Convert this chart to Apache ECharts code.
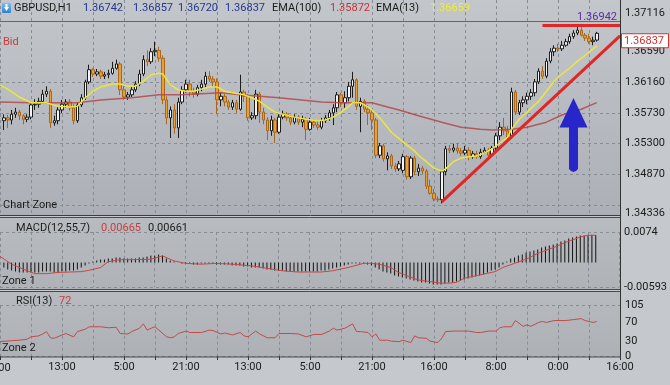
<!DOCTYPE html>
<html><head><meta charset="utf-8">
<script src="https://cdn.jsdelivr.net/npm/echarts@6/dist/echarts.min.js"></script>
<style>html,body{margin:0;padding:0;background:#c4c7cc;}#c{width:670px;height:385px;}</style>
</head><body><div id="c"></div>
<script>
// ---------- DATA ----------
const symbolName = 'GBPUSD,H1';
const timeLabels = ['21:00','13:00','5:00','21:00','13:00','5:00','21:00','16:00','8:00','0:00','16:00'];
const quote = {open: 1.36742, high: 1.36857, low: 1.36720, close: 1.36837};
const emaSlowLast = 1.35872, emaFastLast = 1.36659;
const macdLast = 0.00665, signalLast = 0.00661, rsiLast = 72;
const highLevel = 1.36942;
const priceMin = 1.34336, priceMax = 1.37300;
const priceTicks = [1.34336, 1.34870, 1.35300, 1.35730, 1.36160, 1.36590, 1.37116];
const priceGridLines = [1.34440, 1.34870, 1.35300, 1.35730, 1.36160];
const macdTicks = [-0.00593, 0.0074];
const rsiTicks = [0, 30, 70, 105];
// candles: [open, close, low, high], one per hour bar starting at bar 1
const ohlc = [
[1.3562,1.3566,1.3549,1.3571],[1.3566,1.3563,1.3552,1.3570],[1.3563,1.3571,1.3557,1.3577],[1.3571,1.3574,1.3566,1.3580],
[1.3574,1.3569,1.3563,1.3577],[1.3569,1.3564,1.3557,1.3571],[1.3564,1.3567,1.3560,1.3571],[1.3567,1.3584,1.3564,1.3587],
[1.3584,1.3585,1.3577,1.3592],[1.3585,1.3589,1.3580,1.3594],[1.3589,1.3599,1.3587,1.3605],[1.3599,1.3603,1.3595,1.3610],
[1.3603,1.3559,1.3552,1.3606],[1.3559,1.3562,1.3555,1.3569],[1.3562,1.3577,1.3557,1.3581],[1.3577,1.3585,1.3573,1.3591],
[1.3585,1.3588,1.3580,1.3592],[1.3588,1.3580,1.3576,1.3592],[1.3580,1.3562,1.3557,1.3585],[1.3562,1.3584,1.3559,1.3587],
[1.3584,1.3594,1.3581,1.3599],[1.3594,1.3616,1.3591,1.3619],[1.3616,1.3633,1.3613,1.3640],[1.3633,1.3627,1.3623,1.3635],
[1.3627,1.3630,1.3624,1.3634],[1.3630,1.3624,1.3620,1.3633],[1.3624,1.3626,1.3620,1.3630],[1.3626,1.3628,1.3621,1.3633],
[1.3628,1.3635,1.3626,1.3644],[1.3635,1.3641,1.3633,1.3647],[1.3641,1.3605,1.3598,1.3644],[1.3605,1.3595,1.3591,1.3610],
[1.3595,1.3598,1.3591,1.3602],[1.3598,1.3605,1.3595,1.3609],[1.3605,1.3613,1.3602,1.3617],[1.3613,1.3627,1.3610,1.3633],
[1.3627,1.3647,1.3624,1.3653],[1.3647,1.3644,1.3638,1.3660],[1.3644,1.3658,1.3641,1.3663],[1.3658,1.3660,1.3652,1.3672],
[1.3660,1.3649,1.3644,1.3665],[1.3649,1.3591,1.3585,1.3653],[1.3591,1.3566,1.3557,1.3596],[1.3566,1.3577,1.3538,1.3582],
[1.3577,1.3552,1.3544,1.3585],[1.3552,1.3588,1.3538,1.3594],[1.3588,1.3605,1.3585,1.3610],[1.3605,1.3613,1.3601,1.3619],
[1.3613,1.3602,1.3596,1.3619],[1.3602,1.3599,1.3594,1.3608],[1.3599,1.3608,1.3596,1.3612],[1.3608,1.3613,1.3603,1.3619],
[1.3613,1.3624,1.3609,1.3630],[1.3624,1.3620,1.3616,1.3631],[1.3620,1.3616,1.3610,1.3624],[1.3616,1.3591,1.3571,1.3621],
[1.3591,1.3596,1.3582,1.3601],[1.3596,1.3588,1.3582,1.3599],[1.3588,1.3581,1.3577,1.3591],[1.3581,1.3587,1.3577,1.3591],
[1.3587,1.3578,1.3573,1.3591],[1.3578,1.3602,1.3576,1.3626],[1.3602,1.3596,1.3588,1.3605],[1.3596,1.3566,1.3562,1.3599],
[1.3566,1.3569,1.3563,1.3574],[1.3569,1.3599,1.3564,1.3605],[1.3599,1.3574,1.3559,1.3602],[1.3574,1.3563,1.3557,1.3580],
[1.3563,1.3548,1.3535,1.3567],[1.3548,1.3563,1.3541,1.3569],[1.3563,1.3546,1.3531,1.3566],[1.3546,1.3567,1.3544,1.3571],
[1.3567,1.3571,1.3564,1.3576],[1.3571,1.3566,1.3562,1.3574],[1.3566,1.3560,1.3556,1.3570],[1.3560,1.3567,1.3557,1.3571],
[1.3567,1.3560,1.3556,1.3570],[1.3560,1.3564,1.3553,1.3569],[1.3564,1.3550,1.3535,1.3567],[1.3550,1.3560,1.3548,1.3566],
[1.3560,1.3556,1.3552,1.3564],[1.3556,1.3553,1.3549,1.3562],[1.3553,1.3562,1.3550,1.3566],[1.3562,1.3566,1.3559,1.3570],
[1.3566,1.3573,1.3562,1.3577],[1.3573,1.3580,1.3556,1.3585],[1.3580,1.3598,1.3574,1.3602],[1.3598,1.3587,1.3581,1.3601],
[1.3587,1.3594,1.3580,1.3603],[1.3594,1.3610,1.3589,1.3616],[1.3610,1.3619,1.3594,1.3630],[1.3619,1.3582,1.3577,1.3621],
[1.3582,1.3589,1.3546,1.3594],[1.3589,1.3578,1.3574,1.3592],[1.3578,1.3573,1.3556,1.3584],[1.3573,1.3563,1.3549,1.3577],
[1.3563,1.3514,1.3510,1.3566],[1.3514,1.3527,1.3510,1.3531],[1.3527,1.3509,1.3505,1.3530],[1.3509,1.3513,1.3493,1.3518],
[1.3513,1.3499,1.3495,1.3516],[1.3499,1.3495,1.3491,1.3503],[1.3495,1.3502,1.3492,1.3506],[1.3493,1.3512,1.3489,1.3516],
[1.3512,1.3484,1.3480,1.3514],[1.3484,1.3510,1.3481,1.3513],[1.3510,1.3491,1.3486,1.3513],[1.3491,1.3496,1.3485,1.3502],
[1.3496,1.3492,1.3488,1.3499],[1.3492,1.3471,1.3467,1.3495],[1.3471,1.3461,1.3459,1.3480],[1.3461,1.3453,1.3450,1.3467],
[1.3453,1.3452,1.3449,1.3457],[1.3452,1.3491,1.3447,1.3493],[1.3491,1.3523,1.3486,1.3527],[1.3523,1.3521,1.3517,1.3528],
[1.3521,1.3524,1.3518,1.3530],[1.3524,1.3520,1.3516,1.3531],[1.3520,1.3517,1.3513,1.3524],[1.3517,1.3521,1.3514,1.3527],
[1.3521,1.3512,1.3507,1.3525],[1.3512,1.3516,1.3509,1.3520],[1.3516,1.3512,1.3509,1.3520],[1.3512,1.3518,1.3509,1.3523],
[1.3518,1.3521,1.3516,1.3525],[1.3521,1.3514,1.3510,1.3524],[1.3514,1.3524,1.3512,1.3527],[1.3524,1.3541,1.3521,1.3545],
[1.3541,1.3553,1.3535,1.3560],[1.3553,1.3548,1.3542,1.3566],[1.3548,1.3539,1.3534,1.3555],[1.3539,1.3602,1.3537,1.3608],
[1.3602,1.3574,1.3570,1.3605],[1.3574,1.3587,1.3570,1.3591],[1.3587,1.3591,1.3581,1.3596],[1.3591,1.3596,1.3585,1.3601],
[1.3596,1.3601,1.3591,1.3606],[1.3601,1.3616,1.3596,1.3620],[1.3616,1.3631,1.3613,1.3635],[1.3631,1.3624,1.3620,1.3638],
[1.3624,1.3645,1.3621,1.3649],[1.3645,1.3658,1.3642,1.3663],[1.3658,1.3663,1.3652,1.3667],[1.3663,1.3662,1.3658,1.3669],
[1.3662,1.3667,1.3659,1.3673],[1.3667,1.3672,1.3665,1.3676],[1.3672,1.3679,1.3669,1.3683],[1.3679,1.3684,1.3676,1.3688],
[1.3684,1.3688,1.3681,1.36942],[1.3688,1.3681,1.3679,1.3692],[1.3681,1.3677,1.3673,1.3684],[1.3677,1.3672,1.3669,1.3683],
[1.3672,1.3674,1.3667,1.3679],[1.36742,1.36837,1.36720,1.36857]
];
// EMA lines: [bar, value]
const ema13 = [[0,1.3612],[2,1.3606],[5,1.3595],[8,1.3587],[12,1.3587],[15,1.3582],[18,1.3581],[20,1.3582],[22,1.3594],[24,1.3603],[26,1.3609],[29,1.3613],[31,1.3613],[33,1.3610],[35,1.3610],[37,1.3617],[39,1.3626],[41,1.3628],[42,1.3627],[44,1.3612],[46,1.3605],[48,1.3603],[50,1.3603],[52,1.3606],[54,1.3609],[56,1.3609],[58,1.3603],[60,1.3601],[63,1.3598],[65,1.3594],[67,1.3589],[69,1.3581],[71,1.3574],[73,1.3571],[76,1.3567],[79,1.3564],[82,1.3562],[84,1.3563],[86,1.3567],[88,1.3574],[90,1.3582],[91,1.3587],[93,1.3587],[95,1.3581],[96,1.3577],[98,1.3566],[100,1.3553],[101,1.3546],[103,1.3537],[105,1.3528],[107,1.3520],[108,1.3514],[110,1.3505],[112,1.3496],[114,1.3492],[115,1.3495],[117,1.3505],[119,1.3510],[121,1.3512],[123,1.3513],[125,1.3517],[127,1.3523],[129,1.3531],[131,1.3539],[132,1.3550],[134,1.3564],[136,1.3574],[138,1.3584],[139,1.3589],[141,1.3603],[143,1.3617],[145,1.3627],[147,1.3635],[149,1.3645],[151,1.3653],[153,1.3662],[154,1.36659]];
const ema100 = [[0,1.3588],[8,1.3587],[20,1.3587],[26,1.3591],[34,1.3594],[41,1.3598],[47,1.3598],[57,1.3601],[62,1.3598],[72,1.3594],[83,1.3588],[88,1.3587],[96,1.3587],[100,1.3581],[103,1.3577],[108,1.3569],[114,1.3560],[119,1.3553],[124,1.3550],[127,1.3549],[132,1.3550],[136,1.3553],[141,1.3560],[145,1.3570],[150,1.3578],[154,1.35872]];
// MACD histogram, one per candle
const macdHist = [
-0.00121,-0.00170,-0.00194,-0.00218,-0.00242,-0.00242,-0.00242,-0.00242,
-0.00242,-0.00242,-0.00218,-0.00218,-0.00218,-0.00242,-0.00242,-0.00218,-0.00218,-0.00194,-0.00194,-0.00170,-0.00121,-0.00073,-0.00024,0.00024,
0.00048,0.00073,0.00073,0.00097,0.00097,0.00121,0.00121,0.00097,0.00097,0.00097,0.00097,0.00121,0.00121,0.00145,0.00170,0.00170,0.00194,0.00170,
0.00097,0.00048,0.00024,0,-0.00024,-0.00024,-0.00024,-0.00048,-0.00048,-0.00024,-0.00024,-0.00024,-0.00024,-0.00048,-0.00048,-0.00048,-0.00048,-0.00073,
-0.00073,-0.00073,-0.00097,-0.00097,-0.00121,-0.00121,-0.00121,-0.00145,-0.00170,-0.00170,-0.00194,-0.00194,-0.00194,
-0.00218,-0.00218,-0.00218,-0.00218,-0.00218,-0.00218,-0.00218,-0.00218,-0.00218,-0.00194,-0.00194,-0.00170,-0.00145,
-0.00121,-0.00097,-0.00073,-0.00048,-0.00024,-0.00024,-0.00024,-0.00024,-0.00048,-0.00073,
-0.00121,-0.00170,-0.00218,-0.00242,-0.00267,-0.00315,-0.00339,-0.00364,-0.00388,-0.00412,-0.00436,-0.00461,-0.00485,-0.00485,-0.00509,-0.00533,-0.00533,-0.00533,-0.00509,-0.00485,-0.00485,-0.00461,-0.00436,-0.00412,-0.00388,-0.00364,-0.00339,-0.00315,-0.00291,-0.00242,-0.00194,-0.00170,-0.00121,-0.00048,
0.00024,0.00097,0.00121,0.00170,0.00194,0.00242,0.00267,0.00291,0.00315,0.00364,0.00388,0.00412,0.00436,0.00461,0.00509,0.00533,0.00582,0.00606,0.00630,0.00655,0.00655,0.00670,0.00672,0.00665
];
const macdSignal = [[0,0.0015],[3,-0.0004],[6,-0.0016],[9,-0.0027],[12,-0.0027],[15,-0.0024],[21,-0.0022],[23,-0.0019],[26,-0.0012],[28,0.0002],[31,0.0007],[35,0.0007],[39,0.0008],[42,0.0016],[45,0.0004],[48,-0.0002],[52,-0.0004],[56,-0.0002],[60,-0.0004],[65,-0.0008],[69,-0.0014],[73,-0.0020],[77,-0.0023],[83,-0.0023],[86,-0.0020],[90,-0.0012],[94,-0.0002],[96,-0.0002],[98,-0.0004],[101,-0.0012],[103,-0.0024],[106,-0.0035],[108,-0.0042],[111,-0.0046],[114,-0.0050],[116,-0.0050],[118,-0.0048],[120,-0.0038],[124,-0.0030],[128,-0.0022],[130,-0.0012],[133,-0.0002],[136,0.0008],[139,0.0022],[143,0.0036],[146,0.0048],[150,0.0062],[152,0.0066],[154,0.00661]];
const rsi = [[0,30],[3,32],[5,33],[7,35],[8,40],[10,42],[11,46],[12,51],[13,38],[14,37],[16,44],[17,47],[19,40],[20,51],[22,56],[23,61],[26,61],[28,59],[30,60],[31,47],[33,46],[34,51],[36,58],[37,67],[38,54],[39,58],[40,61],[41,54],[43,40],[44,38],[45,40],[46,47],[48,52],[49,49],[52,49],[54,54],[55,53],[57,46],[58,48],[60,44],[62,49],[63,42],[64,40],[66,52],[67,46],[69,38],[71,38],[72,47],[75,47],[77,46],[79,40],[81,45],[83,45],[85,52],[86,58],[87,54],[89,58],[91,67],[92,51],[93,51],[95,49],[96,40],[97,46],[98,33],[100,33],[101,31],[103,30],[104,33],[106,28],[107,42],[108,38],[110,37],[111,31],[113,28],[114,37],[115,51],[117,52],[121,52],[123,49],[124,49],[126,52],[128,52],[129,59],[130,61],[132,61],[133,74],[135,62],[136,65],[137,62],[139,70],[140,72],[141,70],[143,74],[146,74],[148,76],[150,78],[151,74],[152,72],[153,70],[154,72]];
// drawing objects (bar, price)
const trendLines = [[[114,1.3449],[160,1.3680]], [[140,1.36942],[160,1.36942]]];
const arrowAt = [148, 1.3542];

// ---------- CHART ----------
const FONT = 'Roboto, "Noto Sans", sans-serif';
const FS = 11;
const TXT = '#1b1b1b';
const GRIDC = '#868d95';
const barCount = 161;
const cats = Array.from({length: barCount}, (_, i) => String(i));
const chart = echarts.init(document.getElementById('c'));

function xAxisFor(gi, show) {
  return {
    type: 'category', data: cats, gridIndex: gi, boundaryGap: false,
    axisLine: {show: false},
    axisTick: {show: show, interval: (i) => i % 8 === 0, length: 4, lineStyle: {color: '#333'}},
    axisLabel: {show: show, interval: (i) => i % 16 === 0 && i > 0, formatter: (v, i) => timeLabels[i / 16] || '',
      color: TXT, fontSize: FS, fontFamily: FONT, margin: 6},
    splitLine: {show: true, interval: (i) => i % 8 === 0, lineStyle: {color: GRIDC, type: [3, 3], width: 1}}
  };
}
const yLabel = {color: TXT, fontSize: FS, fontFamily: FONT, margin: 5};
const yTick = {length: 4, lineStyle: {color: '#333'}};

const option = {
  backgroundColor: '#c5c8cd',
  animation: false,
  grid: [
    {left: 0, width: 620, top: 0, height: 213},
    {left: 0, width: 620, top: 232, height: 55},
    {left: 0, width: 620, top: 305.7, height: 50.3}
  ],
  xAxis: [xAxisFor(0, false), xAxisFor(1, false), xAxisFor(2, true)],
  yAxis: [
    {type: 'value', gridIndex: 0, position: 'right', min: priceMin, max: priceMax,
     axisLine: {show: false}, axisTick: Object.assign({customValues: priceTicks}, yTick),
     axisLabel: Object.assign({customValues: priceTicks, formatter: (v) => v.toFixed(5)}, yLabel),
     splitLine: {show: false}},
    {type: 'value', gridIndex: 0, position: 'right', min: priceMin, max: priceMax,
     axisLine: {show: false}, axisTick: {show: false, customValues: priceGridLines}, axisLabel: {show: false},
     splitLine: {show: true, lineStyle: {color: GRIDC, type: [3, 3]}}},
    {type: 'value', gridIndex: 1, position: 'right', min: macdTicks[0], max: macdTicks[1],
     axisLine: {show: false}, axisTick: Object.assign({customValues: macdTicks}, yTick),
     axisLabel: Object.assign({customValues: macdTicks, formatter: (v) => String(v)}, yLabel),
     splitLine: {show: true, lineStyle: {color: GRIDC, type: [3, 3]}}},
    {type: 'value', gridIndex: 2, position: 'right', min: 0, max: 105,
     axisLine: {show: false}, axisTick: Object.assign({customValues: rsiTicks}, yTick),
     axisLabel: Object.assign({customValues: rsiTicks}, yLabel),
     splitLine: {show: true, lineStyle: {color: [GRIDC, 'rgba(0,0,0,0)', 'rgba(0,0,0,0)', GRIDC], type: [3, 3]}}}
  ],
  series: [
    {type: 'candlestick', name: 'price', xAxisIndex: 0, yAxisIndex: 0,
     data: ohlc.map((d, i) => [i + 1, d[0], d[1], d[2], d[3]]),
     encode: {x: 0, y: [1, 2, 3, 4]},
     barWidth: 3,
     itemStyle: {color: '#f4f4f4', borderColor: '#1c1c1c', color0: '#e9a033', borderColor0: '#a8671a', borderWidth: 1},
     markLine: {silent: true, symbol: 'none', animation: false, label: {show: false},
       data: [
         {yAxis: highLevel, lineStyle: {color: '#5a2ca6', width: 1, type: 'solid'}},
         {yAxis: quote.close, lineStyle: {color: '#c83c3c', width: 1, type: 'solid'}}
       ]}
    },
    {type: 'line', name: 'EMA(100)', xAxisIndex: 0, yAxisIndex: 0, data: ema100, showSymbol: false,
     lineStyle: {color: '#b44848', width: 1.5, opacity: 0.85}, z: 3},
    {type: 'line', name: 'EMA(13)', xAxisIndex: 0, yAxisIndex: 0, data: ema13, showSymbol: false,
     lineStyle: {color: '#ece63c', width: 1.5}, z: 3},
    {type: 'line', name: 'drawings', xAxisIndex: 0, yAxisIndex: 0, data: [], z: 4,
     markLine: {silent: true, symbol: 'none', animation: false, label: {show: false},
       lineStyle: {color: '#e22626', width: 3, type: 'solid'},
       data: trendLines.map(t => [{coord: t[0]}, {coord: t[1]}])},
     markPoint: {silent: true, animation: false,
       data: [{coord: arrowAt, symbol: 'path://M14,0 L28,29 L18.5,29 L18.5,70 Q14,76 9.5,70 L9.5,29 L0,29 Z',
               symbolSize: [28, 74], itemStyle: {color: '#2727c9'}, label: {show: false}}]}
    },
    {type: 'bar', name: 'MACD', xAxisIndex: 1, yAxisIndex: 2, data: macdHist.map((v, i) => [i + 1, v]),
     barWidth: 1, itemStyle: {color: '#141414'}},
    {type: 'line', name: 'Signal', xAxisIndex: 1, yAxisIndex: 2, data: macdSignal, showSymbol: false,
     lineStyle: {color: '#c84646', width: 1}, z: 3},
    {type: 'line', name: 'RSI', xAxisIndex: 2, yAxisIndex: 3, data: rsi, showSymbol: false,
     lineStyle: {color: '#c24a4a', width: 1}}
  ]
};
chart.setOption(option);

// ---------- DECORATION ----------
const yBid = chart.convertToPixel({yAxisIndex: 0}, quote.close);
const yHigh = chart.convertToPixel({yAxisIndex: 0}, highLevel);
const xFirst = chart.convertToPixel({xAxisIndex: 2}, 0);
function txt(id, text, x, y, fill, align) {
  return {type: 'text', id: id, x: x, y: y, z: 50, silent: true,
    style: {text: text, fill: fill, font: FS + 'px ' + FONT, textAlign: align || 'left', textVerticalAlign: 'middle'}};
}
const f5 = (v) => v.toFixed(5);
const bg = (c1, c2) => ({type: 'linear', x: 0, y: 0, x2: 0, y2: 1, colorStops: [{offset: 0, color: c1}, {offset: 1, color: c2}]});
chart.setOption({
  graphic: [
    {type: 'rect', id: 'bgMain', z: -100, silent: true, shape: {x: 0, y: 0, width: 620, height: 215}, style: {fill: bg('#c3c7cc', '#acb0b6')}},
    {type: 'rect', id: 'bgMacd', z: -100, silent: true, shape: {x: 0, y: 218, width: 620, height: 72}, style: {fill: bg('#b8bcc1', '#afb3b8')}},
    {type: 'rect', id: 'bgRsi', z: -100, silent: true, shape: {x: 0, y: 291, width: 620, height: 66}, style: {fill: bg('#b7bbc0', '#adb1b6')}},
    {type: 'line', id: 'frMain', z: 40, silent: true, shape: {x1: 0, y1: 215.5, x2: 621, y2: 215.5}, style: {stroke: '#3d3d3d', lineWidth: 1}},
    {type: 'rect', id: 'frMacd', z: 40, silent: true, shape: {x: -1, y: 217.5, width: 621.5, height: 72}, style: {fill: null, stroke: '#4a4a4a', lineWidth: 1}},
    {type: 'rect', id: 'frRsi', z: 40, silent: true, shape: {x: -1, y: 291.5, width: 621.5, height: 65.5}, style: {fill: null, stroke: '#4a4a4a', lineWidth: 1}},
    {type: 'line', id: 'axisR', z: 40, silent: true, shape: {x1: 620.5, y1: 0, x2: 620.5, y2: 357}, style: {stroke: '#333', lineWidth: 1}},
    // symbol icon
    {type: 'rect', id: 'icon', z: 50, silent: true, shape: {x: 2, y: 3, width: 9, height: 10, r: 1}, style: {fill: bg('#7cc0f0', '#2f7fcf')}},
    {type: 'polygon', id: 'iconArrow', z: 51, silent: true, shape: {points: [[4, 7], [9, 7], [6.5, 11]]}, style: {fill: '#ffffff'}},
    {type: 'rect', id: 'iconArrow2', z: 51, silent: true, shape: {x: 5.5, y: 4, width: 2, height: 3}, style: {fill: '#ffffff'}},
    txt('t0', symbolName, 14, 8, TXT),
    txt('t1', f5(quote.open), 83, 8, '#23388f'),
    txt('t2', f5(quote.high), 133, 8, '#23388f'),
    txt('t3', f5(quote.low), 178, 8, '#23388f'),
    txt('t4', f5(quote.close), 225, 8, '#23388f'),
    txt('t5', 'EMA(100)', 272, 8, TXT),
    txt('t6', f5(emaSlowLast), 330, 8, '#c43434'),
    txt('t7', 'EMA(13)', 376, 8, TXT),
    txt('t8', f5(emaFastLast), 430, 8, '#ecec3a'),
    txt('hi', f5(highLevel), 617, yHigh - 8, '#5a2ca6', 'right'),
    txt('bid', 'Bid', 3, yBid + 9, '#c83c3c'),
    txt('t9', 'Chart Zone', 3, 205, TXT),
    txt('m0', 'MACD(12,55,7)', 16, 228, TXT),
    txt('m1', f5(macdLast), 101, 228, '#c83c3c'),
    txt('m2', f5(signalLast), 148, 228, TXT),
    txt('m3', 'Zone 1', 2, 281, TXT),
    txt('r0', 'RSI(13)', 16, 301, TXT),
    txt('r1', String(rsiLast), 59, 301, '#c83c3c'),
    txt('r2', 'Zone 2', 2, 348, TXT),
    // first time label, cut by the left edge as in the terminal
    txt('x0', timeLabels[0], xFirst - 3, 368, TXT, 'center'),
    // current price tag
    {type: 'rect', id: 'tag', z: 60, silent: true, shape: {x: 621.5, y: yBid + 0.5, width: 47, height: 14}, style: {fill: '#ffffff', stroke: '#d03232', lineWidth: 1}},
    {type: 'text', id: 'tagT', z: 61, silent: true, x: 624, y: yBid + 8,
     style: {text: f5(quote.close), fill: '#d03232', font: FS + 'px ' + FONT, textAlign: 'left', textVerticalAlign: 'middle'}}
  ]
});
</script>
</body></html>
